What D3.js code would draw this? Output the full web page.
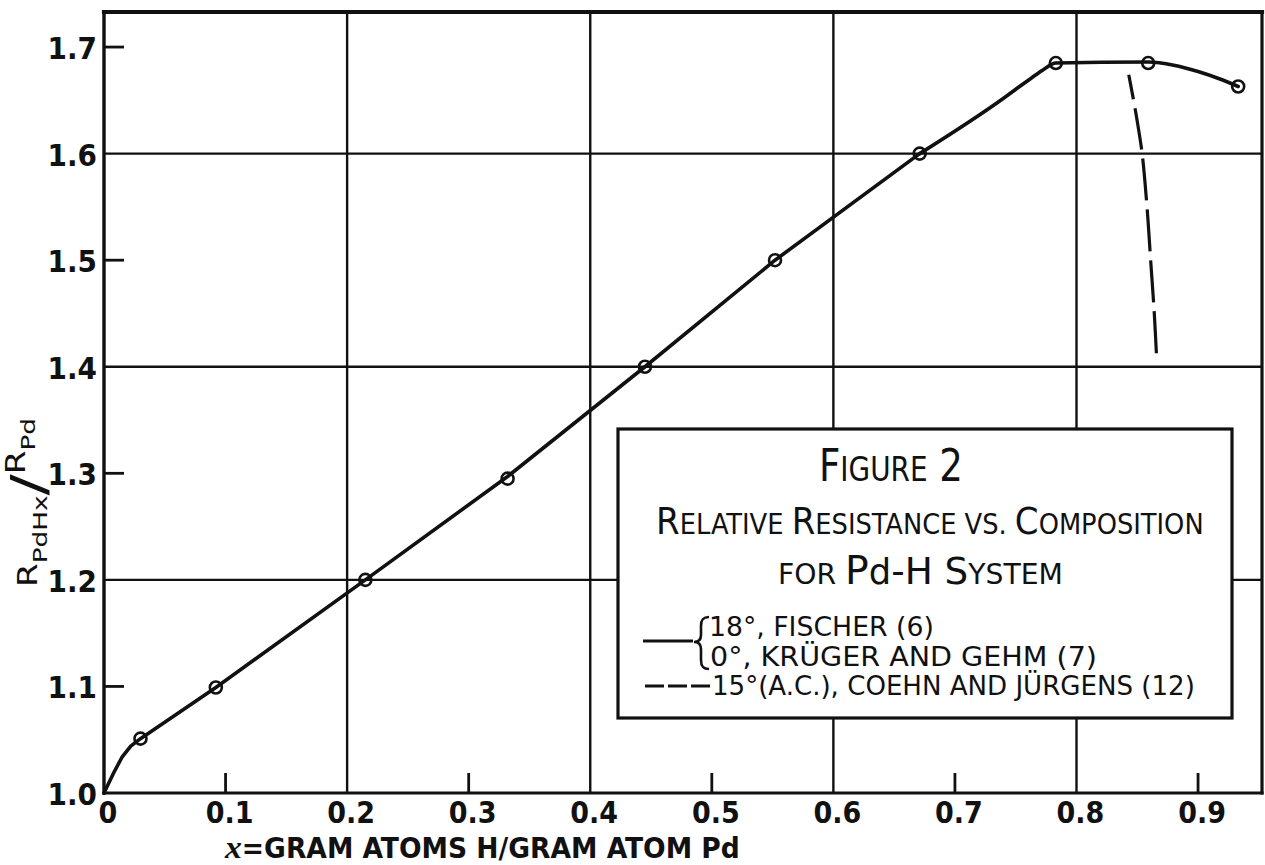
<!DOCTYPE html>
<html>
<head>
<meta charset="utf-8">
<script src="https://cdn.jsdelivr.net/npm/d3@7"></script>
<style>
  body { margin: 0; background: #fff; }
  svg { display: block; background: #fff; }
  text { font-family: "Liberation Sans Narrow", "DejaVu Sans Condensed", "Liberation Sans", sans-serif; fill: #111; }
</style>
</head>
<body>
<svg id="chart" width="1265" height="865"></svg>
<script>
// Relative resistance R(PdHx)/R(Pd) against hydrogen content x

const xTickValues = [0, 0.1, 0.2, 0.3, 0.4, 0.5, 0.6, 0.7, 0.8, 0.9];
const xTickLabels = ["0", "0.1", "0.2", "0.3", "0.4", "0.5", "0.6", "0.7", "0.8", "0.9"];
const yTickValues = [1.0, 1.1, 1.2, 1.3, 1.4, 1.5, 1.6, 1.7];
const yTickLabels = ["1.0", "1.1", "1.2", "1.3", "1.4", "1.5", "1.6", "1.7"];
const xGridValues = [0.2, 0.4, 0.6, 0.8];
const yGridValues = [1.2, 1.4, 1.6];
const xMinorTicks = [0.1, 0.3, 0.5, 0.7, 0.9];
const yMinorTicks = [1.1, 1.3, 1.5, 1.7];

// measured points (open circles): 18° Fischer, 0° Krüger and Gehm
const pointX = [0.030, 0.092, 0.215, 0.332, 0.445, 0.552, 0.671, 0.783, 0.859, 0.933];
const pointY = [1.051, 1.099, 1.200, 1.295, 1.400, 1.500, 1.600, 1.685, 1.685, 1.663];

// faired solid curve: nearly straight lower part ...
const lowerX = [0, 0.008, 0.015, 0.022, 0.030, 0.092, 0.215, 0.332, 0.445, 0.552, 0.671];
const lowerY = [1.000, 1.019, 1.034, 1.044, 1.051, 1.099, 1.200, 1.297, 1.400, 1.500, 1.600];
// ... and the rounded top
const upperX = [0.671, 0.740, 0.752, 0.763, 0.773, 0.783, 0.859, 0.880, 0.900, 0.918, 0.933];
const upperY = [1.600, 1.652, 1.662, 1.671, 1.679, 1.685, 1.686, 1.683, 1.677, 1.670, 1.663];

// dashed curve: 15° (A.C.), Coehn and Jürgens
const dashX = [0.843, 0.849, 0.854, 0.858, 0.861, 0.864, 0.866];
const dashY = [1.674, 1.637, 1.600, 1.550, 1.500, 1.450, 1.406];

const svg = d3.select("#chart");

const x = d3.scaleLinear().domain([0, 0.9526]).range([104, 1262]);
const y = d3.scaleLinear().domain([1.0, 1.7329]).range([793, 12]);

const [x0, x1] = x.range();
const [yB, yT] = y.range();

// grid lines
const grid = svg.append("g").attr("stroke", "#111").attr("stroke-width", 2.4);
grid.selectAll("line.v").data(xGridValues).join("line")
  .attr("x1", d => x(d)).attr("x2", d => x(d))
  .attr("y1", yB).attr("y2", yT);
grid.selectAll("line.h").data(yGridValues).join("line")
  .attr("x1", x0).attr("x2", x1)
  .attr("y1", d => y(d)).attr("y2", d => y(d));

// minor tick marks
const ticks = svg.append("g").attr("stroke", "#111").attr("stroke-width", 2.8);
ticks.selectAll("line.xt").data(xMinorTicks).join("line")
  .attr("x1", d => x(d)).attr("x2", d => x(d))
  .attr("y1", yB).attr("y2", yB - 20);
ticks.selectAll("line.yt").data(yMinorTicks).join("line")
  .attr("x1", x0).attr("x2", x0 + 20)
  .attr("y1", d => y(d)).attr("y2", d => y(d));

// frame
const frame = svg.append("g").attr("stroke", "#111").attr("stroke-linecap", "square");
frame.append("line").attr("x1", x0).attr("x2", x1).attr("y1", yT).attr("y2", yT).attr("stroke-width", 4.2);
frame.append("line").attr("x1", x0).attr("x2", x1).attr("y1", yB).attr("y2", yB).attr("stroke-width", 3.2);
frame.append("line").attr("x1", x0).attr("x2", x0).attr("y1", yT).attr("y2", yB).attr("stroke-width", 3.4);
frame.append("line").attr("x1", x1).attr("x2", x1).attr("y1", yT).attr("y2", yB).attr("stroke-width", 3.2);

// curves
const curveStyle = p => p.attr("fill", "none").attr("stroke", "#111").attr("stroke-width", 3.6)
  .attr("stroke-linejoin", "round").attr("stroke-linecap", "round");
const lowerPts = lowerX.map((v, i) => [v, lowerY[i]]);
const upperPts = upperX.map((v, i) => [v, upperY[i]]);
const straight = d3.line().x(d => x(d[0])).y(d => y(d[1])).curve(d3.curveLinear);
const smooth = d3.line().x(d => x(d[0])).y(d => y(d[1])).curve(d3.curveMonotoneX);
svg.append("path").attr("d", straight(lowerPts)).call(curveStyle);
svg.append("path").attr("d", smooth(upperPts)).call(curveStyle);

const dashPts = dashX.map((v, i) => [v, dashY[i]]);
const dashLine = d3.line().x(d => x(d[0])).y(d => y(d[1])).curve(d3.curveCatmullRom);
svg.append("path").attr("d", dashLine(dashPts))
  .attr("fill", "none").attr("stroke", "#111").attr("stroke-width", 3.2)
  .attr("stroke-dasharray", "42 9").attr("stroke-dashoffset", 17);

// measured points
svg.append("g").selectAll("circle").data(pointX).join("circle")
  .attr("cx", d => x(d)).attr("cy", (d, i) => y(pointY[i])).attr("r", 6)
  .attr("fill", "none").attr("stroke", "#111").attr("stroke-width", 2.6);

// fit helper: stretch a start-anchored text horizontally to span [a, b]
function fitText(t, a, b, base) {
  const w = t.node().getBBox().width;
  t.attr("transform", `translate(${a},${base}) scale(${(b - a) / w},1)`);
}

// tick labels
const xl = svg.append("g");
xTickValues.forEach((v, i) => {
  xl.append("text").attr("x", x(v) + 4).attr("y", 823)
    .attr("text-anchor", "middle").attr("font-size", 30).attr("font-weight", "bold")
    .text(xTickLabels[i]);
});
const yl = svg.append("g");
yTickValues.forEach((v, i) => {
  yl.append("text").attr("x", x0 - 7).attr("y", y(v) + 12)
    .attr("text-anchor", "end").attr("font-size", 31).attr("font-weight", "bold")
    .text(yTickLabels[i]);
});

// x-axis title
const xt = svg.append("text").attr("font-weight", "bold");
xt.append("tspan").attr("font-family", "Liberation Serif, DejaVu Serif, serif")
  .attr("font-style", "italic").attr("font-size", 32).text("x");
xt.append("tspan").attr("font-size", 28).text("=GRAM ATOMS H/GRAM ATOM Pd");
fitText(xt, 225, 741, 858);

// y-axis title, rotated
const yg = svg.append("g").attr("transform", "translate(37,587) rotate(-90)");
const ytt = yg.append("text");
ytt.append("tspan").attr("font-size", 26).text("R");
ytt.append("tspan").attr("font-size", 20).attr("dy", 10).text("PdHx");
ytt.append("tspan").attr("font-size", 48).attr("dy", -2).text("/");
ytt.append("tspan").attr("font-size", 26).attr("dy", -20).text("R");
ytt.append("tspan").attr("font-size", 20).attr("dy", 10).text("Pd");
{
  const w = ytt.node().getBBox().width;
  ytt.attr("transform", `scale(${169 / w},1)`);
}

// legend / caption box
const box = svg.append("g");
box.append("rect").attr("x", 618).attr("y", 429).attr("width", 614).attr("height", 289)
  .attr("fill", "#fff").attr("stroke", "#111").attr("stroke-width", 3.2);

function capsLine(parts, a, b, base) {
  const t = box.append("text");
  parts.forEach(p => t.append("tspan").attr("font-size", p[1]).text(p[0]));
  fitText(t, a, b, base);
  return t;
}
capsLine([["F", 44], ["IGURE", 33], [" 2", 44]], 819, 963, 481);
capsLine([["R", 37], ["ELATIVE ", 28], ["R", 37], ["ESISTANCE VS. ", 28], ["C", 37], ["OMPOSITION", 28]], 656, 1204, 534);
capsLine([["FOR ", 28], ["P", 39], ["d", 35], ["-H ", 37], ["S", 37], ["YSTEM", 28]], 778, 1063, 584);

// legend samples
box.append("line").attr("x1", 643).attr("x2", 693).attr("y1", 641).attr("y2", 641)
  .attr("stroke", "#111").attr("stroke-width", 3);
box.append("path")
  .attr("d", "M709,617 C702,617 701,621 701,626 L701,635 C701,640 698,642 694,642 C698,642 701,644 701,649 L701,660 C701,666 703,669 709,669")
  .attr("fill", "none").attr("stroke", "#111").attr("stroke-width", 2.6);
box.append("line").attr("x1", 645).attr("x2", 710).attr("y1", 686).attr("y2", 686)
  .attr("stroke", "#111").attr("stroke-width", 3).attr("stroke-dasharray", "19 4");

function legendLine(str, a, b, base) {
  const t = box.append("text").attr("font-size", 27).text(str);
  fitText(t, a, b, base);
}
legendLine("18°, FISCHER (6)", 709, 934, 636);
legendLine("0°, KRÜGER AND GEHM (7)", 710, 1097, 666);
legendLine("15°(A.C.), COEHN AND JÜRGENS (12)", 712, 1195, 695);
</script>
</body>
</html>
